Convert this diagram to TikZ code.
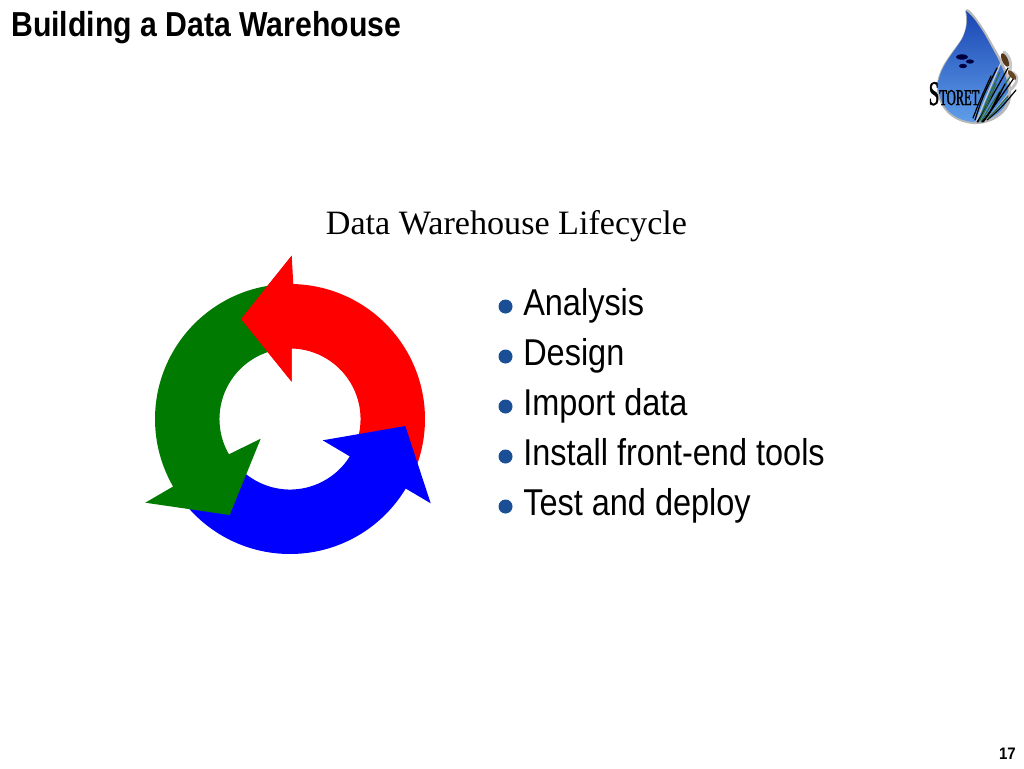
\documentclass[tikz,border=0pt]{standalone}
\usepackage{fontspec}
\setmainfont{Liberation Serif}
\newfontfamily\narrowfont[FakeStretch=0.87]{Liberation Sans}
\newfontfamily\titlefont[FakeStretch=0.871]{Liberation Sans Bold}
\newfontfamily\numfont[FakeStretch=0.9]{Liberation Sans Bold}
\newfontfamily\logofont[FakeStretch=0.55,FakeBold=1.2]{Liberation Serif}
\definecolor{bulletblue}{HTML}{1A4F96}
\definecolor{arrowgreen}{HTML}{007A00}
\definecolor{reedgreen}{HTML}{2F6A44}
\definecolor{droptop}{HTML}{1A46B4}
\definecolor{dropmid}{HTML}{1A4CBC}
\definecolor{dropbot}{HTML}{5F9EE8}
\tikzset{
  bulletdot/.style={circle,fill=bulletblue,inner sep=0pt,minimum size=10.5pt},
  itemtext/.style={anchor=base west,inner sep=0pt,font=\narrowfont\fontsize{28}{28}\selectfont},
  reed/.style={line width=.9pt,line cap=round},
}
\begin{document}
\begin{tikzpicture}[x=.75pt,y=-.75pt]
\useasboundingbox (0,0) rectangle (1024,768);
\fill[white] (0,0) rectangle (1024,768);

\node[anchor=base west,inner sep=0pt,font=\titlefont\fontsize{26}{26}\selectfont] (title) at (11,36) {Building a Data Warehouse};
\node[anchor=base,inner sep=0pt,font=\fontsize{25.6}{25.6}\selectfont] (heading) at (506.5,234) {Data Warehouse Lifecycle};
\node[anchor=base east,inner sep=0pt,font=\numfont\fontsize{12.5}{12.5}\selectfont] (pagenum) at (1016,759) {17};

\foreach \i/\t in {0/Analysis,1/Design,2/Import data,3/Install front-end tools,4/Test and deploy}{
  \node[bulletdot] (dot\i) at (505.5,306.5+50*\i) {};
  \node[itemtext] (item\i) at (523,315+50*\i) {\t};
}

% lifecycle arrows
\begin{scope}[shift={(290,419)}]
  % red
  \fill[red] (291.7-290,255.7-419) -- (241-290,319-419) -- (291.7-290,381.7-419) -- (88.6:52.9pt)
    arc[start angle=88.6,end angle=-14,radius=52.9pt] -- (-20:101.25pt)
    arc[start angle=-20,end angle=88.6,radius=101.25pt] -- cycle;
  % blue
  \fill[blue] (430.7-290,503.3-419) -- (405.3-290,426-419) -- (322.7-290,440.3-419) -- (-32:52.9pt)
    arc[start angle=-32,end angle=-145,radius=52.9pt] -- (-145:101.25pt)
    arc[start angle=-145,end angle=-31,radius=101.25pt] -- cycle;
  % green
  \fill[arrowgreen] (145.3-290,502.7-419) -- (229.7-290,515-419) -- (260.7-290,438.7-419) -- (210:52.9pt)
    arc[start angle=210,end angle=98,radius=52.9pt] -- (98:101.25pt)
    arc[start angle=98,end angle=210,radius=101.25pt] -- cycle;
  % red head on top of green tail
  \fill[red] (291.7-290,255.7-419) -- (241-290,319-419) -- (291.7-290,381.7-419) -- cycle;
\end{scope}

% logo: drop
\path[fill=black!28] (967,9) .. controls (972,10) and (985,30) .. (993,45)
   .. controls (1003,62) and (1013,80) .. (1011,98)
   .. controls (1008,115) and (990,125) .. (973,124)
   .. controls (950,122) and (936,105) .. (937,85)
   .. controls (938,66) and (955,50) .. (962,38)
   .. controls (967,28) and (967,18) .. (965,11) -- cycle;
\shade[top color=droptop,middle color=dropmid,bottom color=dropbot]
   (966,11) .. controls (972,14) and (984,32) .. (991,46)
   .. controls (1000,62) and (1010,80) .. (1008,97)
   .. controls (1005,113) and (989,122) .. (973,122)
   .. controls (951,120) and (938,104) .. (938,85)
   .. controls (939,67) and (955,51) .. (962,39)
   .. controls (967,29) and (968,20) .. (966,11) -- cycle;
% fish
\fill[black!75!blue] (962,57) ellipse[x radius=4.5pt,y radius=2pt];
\fill[black!75!blue] (970,61.5) ellipse[x radius=3pt,y radius=1.6pt];
\fill[black!75!blue] (963,66) ellipse[x radius=3pt,y radius=1.6pt];
% pale outline behind the reeds
\draw[black!22,line width=2.2pt,line cap=round] (1004,52) .. controls (1012,58) and (1012,68) .. (1008,76);
\draw[black!22,line width=2.2pt,line cap=round] (1010,72) .. controls (1020,74) and (1018,84) .. (1010,90);
% reeds
\foreach \bx/\by/\cx/\cy/\tx/\ty/\col in {
  976/122/985/100/1002/60/black!20,
  978/122/990/100/1008/68/black,
  981/122/992/103/1012/74/reedgreen,
  983/122/997/102/1014/78/black,
  985/121/1000/105/1015/84/black!25,
  987/120/1001/108/1016/90/black,
  975/120/982/98/997/68/black,
  979/121/987/100/1000/72/reedgreen,
  973/118/980/100/991/76/black,
  984/121/993/108/1005/84/black,
  988/118/996/110/1008/96/reedgreen,
  982/122/990/112/1000/92/black,
  977/122/984/112/992/94/black,
  980/120/986/108/996/84/reedgreen}{
  \draw[reed,draw=\col] (\bx,\by) .. controls (\cx,\cy) .. (\tx,\ty);
}
% cattails
\fill[black!55!brown,rotate around={-65:(1005,60)}] (1005,60) ellipse[x radius=5.5pt,y radius=2.2pt];
\fill[black!45!brown,rotate around={-50:(1012,75)}] (1012,75) ellipse[x radius=4.5pt,y radius=1.8pt];
% logo text
\node[anchor=base west,inner sep=0pt,text=black,font=\logofont] (logotext) at (928.5,105)
  {\fontsize{26}{26}\selectfont S\fontsize{17}{17}\selectfont TORET};
\end{tikzpicture}
\end{document}
